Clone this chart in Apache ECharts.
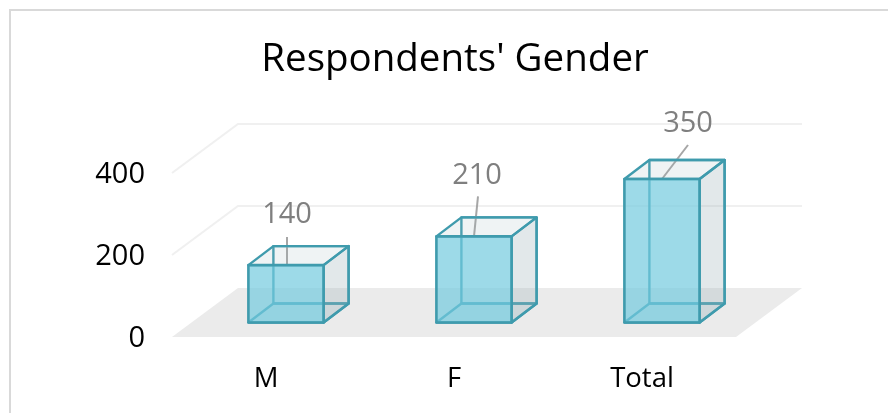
<!DOCTYPE html>
<html>
<head>
<meta charset="utf-8">
<style>html,body{margin:0;padding:0;background:#fff}#c{width:888px;height:413px}</style>
<script src="https://cdn.jsdelivr.net/npm/echarts@6/dist/echarts.min.js"></script>
</head>
<body>
<div id="c"></div>
<script>
const categories = ['M', 'F', 'Total'];
const values = [140, 210, 350];
const yTicks = [0, 200, 400];
const titleText = "Respondents' Gender";

// style constants (perspective look of the original)
const floorDepth = [66, -49];
const barInset = [20, -14.5];
const boxDepth = [25, -19];
const labelOffsets = [[1, -50], [3, -61], [26, -55]];
const leaderStart = [[1, -28], [4, -40], [26, -34]];
const leaderEnd = [[1, 0], [0, 0], [0, 0]];
const FONT = '"Open Sans", sans-serif';

const chart = echarts.init(document.getElementById('c'), null, {renderer: 'canvas'});

function renderBack(params, api) {
  const cs = params.coordSys;
  const v = api.value(0);
  const y = api.coord([0, v])[1];
  const [dx, dy] = floorDepth;
  if (v === 0) {
    return {type: 'polygon', silent: true,
      shape: {points: [[cs.x, y], [cs.x + cs.width, y], [cs.x + cs.width + dx, y + dy], [cs.x + dx, y + dy]]},
      style: {fill: '#ebebeb'}};
  }
  return {type: 'polyline', silent: true,
    shape: {points: [[cs.x, y], [cs.x + dx, y + dy], [cs.x + cs.width + dx, y + dy]]},
    style: {stroke: '#f0f0f0', lineWidth: 2, fill: 'none'}};
}

function renderBox(params, api) {
  const i = api.value(0);
  const val = api.value(1);
  const p0 = api.coord([i, 0]);
  const p1 = api.coord([i, val]);
  const w = api.size([1, 0])[0] * 0.4;
  const l = p0[0] - w / 2 + barInset[0], r = l + w;
  const b = p0[1] + barInset[1], t = p1[1] + barInset[1];
  const [dx, dy] = boxDepth;
  const edge = '#3f9bad';
  const face = (pts, fill, stroke, lw) => ({type: 'polygon', silent: true, shape: {points: pts},
    style: {fill, stroke, lineWidth: lw, lineJoin: 'round'}});
  const cx = (l + r) / 2;
  const ls = leaderStart[i], le = leaderEnd[i], lo = labelOffsets[i];
  return {type: 'group', children: [
    face([[l + dx, t + dy], [r + dx, t + dy], [r + dx, b + dy], [l + dx, b + dy]], 'rgba(255,255,255,0)', '#3f9bad', 2.4),
    face([[l, b], [r, b], [r + dx, b + dy], [l + dx, b + dy]], 'rgba(110,190,205,0.08)', '#3f9bad', 2.4),
    {type: 'line', silent: true,
      shape: {x1: cx + ls[0], y1: t + ls[1], x2: cx + le[0], y2: t + le[1]},
      style: {stroke: '#a6a6a6', lineWidth: 2}},
    face([[r, t], [r + dx, t + dy], [r + dx, b + dy], [r, b]], 'rgba(158,178,185,0.3)', edge, 2.4),
    face([[l, t], [r, t], [r + dx, t + dy], [l + dx, t + dy]], 'rgba(158,178,185,0.16)', edge, 2.4),
    face([[l, t], [r, t], [r, b], [l, b]], 'rgba(115,202,222,0.7)', edge, 2.6),
    {type: 'text', silent: true, x: cx + lo[0], y: t + lo[1],
      style: {text: String(val), fill: '#7f7f7f', font: '400 29px ' + FONT, align: 'center', verticalAlign: 'middle'}}
  ]};
}

chart.setOption({
  animation: false,
  backgroundColor: '#ffffff',
  title: {text: titleText, left: 450, top: 36, textAlign: 'center',
    textStyle: {fontFamily: FONT, fontSize: 38.5, fontWeight: 400, color: '#000'}},
  grid: {left: 172, right: 152, top: 173, height: 164, containLabel: false},
  xAxis: {type: 'category', data: categories,
    axisLine: {show: false}, axisTick: {show: false}, splitLine: {show: false},
    axisLabel: {color: '#000', fontFamily: FONT, fontSize: 27.5, margin: 28}},
  yAxis: {type: 'value', min: 0, max: 400, interval: 200,
    axisLine: {show: false}, axisTick: {show: false}, splitLine: {show: false},
    axisLabel: {color: '#000', fontFamily: FONT, fontSize: 29, margin: 27, verticalAlign: 'top', lineHeight: 4}},
  graphic: [{type: 'rect', silent: true, shape: {x: 10, y: 10, width: 1000, height: 1000},
    style: {fill: 'none', stroke: '#d9d9d9', lineWidth: 2}}],
  series: [
    {type: 'custom', coordinateSystem: 'cartesian2d', clip: false, silent: true, z: 1,
      encode: {x: -1, y: 0}, data: yTicks.map(v => [v]), renderItem: renderBack},
    {type: 'custom', coordinateSystem: 'cartesian2d', clip: false, silent: true, z: 2,
      encode: {x: 0, y: 1}, data: values.map((v, i) => [i, v]), renderItem: renderBox}
  ]
});
</script>
</body>
</html>
